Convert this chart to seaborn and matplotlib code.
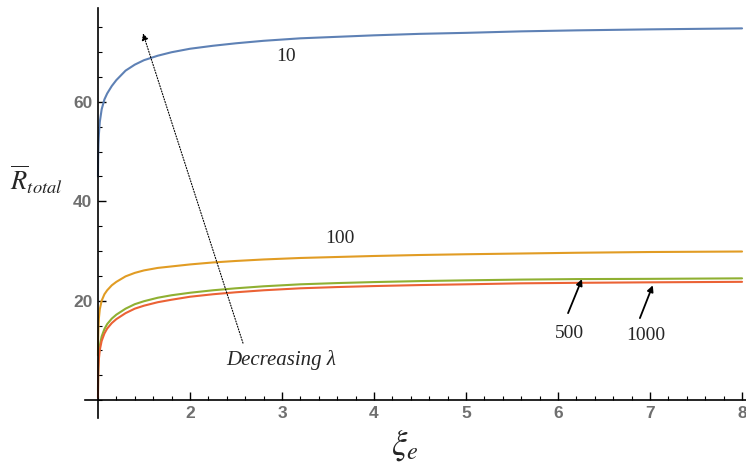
import numpy as np
import pandas as pd
import matplotlib
matplotlib.use("Agg")
import matplotlib.pyplot as plt
import seaborn as sns
from matplotlib.ticker import MultipleLocator

# ---- data ----
xi = [1.0, 1.002, 1.005, 1.01, 1.02, 1.04, 1.07, 1.1, 1.15, 1.2, 1.3, 1.4, 1.5, 1.65,
      1.8, 2.0, 2.25, 2.5, 2.8, 3.2, 3.6, 4.0, 4.5, 5.0, 5.6, 6.2, 7.0, 8.0]
r_lambda_10 = [45, 49, 51.5, 53.5, 56, 58.5, 60.5, 61.7, 63.2, 64.4, 66.3, 67.5, 68.4, 69.3,
               70.0, 70.7, 71.3, 71.8, 72.3, 72.8, 73.1, 73.4, 73.7, 73.9, 74.2, 74.4, 74.6, 74.8]
r_lambda_100 = [9, 12.5, 14.5, 16.5, 18.3, 20.0, 21.3, 22.1, 23.1, 23.8, 24.9, 25.6, 26.1, 26.6,
                26.9, 27.3, 27.7, 28.0, 28.3, 28.6, 28.8, 29.0, 29.2, 29.35, 29.5, 29.65, 29.8, 29.9]
r_lambda_500 = [2, 5.5, 7.5, 9.2, 11.0, 12.8, 14.3, 15.3, 16.4, 17.2, 18.4, 19.3, 19.9, 20.6,
                21.1, 21.6, 22.1, 22.5, 22.9, 23.3, 23.55, 23.75, 23.95, 24.1, 24.25, 24.35, 24.4, 24.5]
r_lambda_1000 = [0.5, 4.5, 6.5, 8.3, 10.1, 11.9, 13.4, 14.4, 15.5, 16.3, 17.5, 18.4, 19.0, 19.7,
                 20.2, 20.8, 21.3, 21.7, 22.1, 22.5, 22.75, 22.95, 23.15, 23.3, 23.5, 23.6, 23.7, 23.8]
lambdas = ["10", "100", "500", "1000"]
x_ticks = [2, 3, 4, 5, 6, 7, 8]
y_ticks = [20, 40, 60]

series = {"10": r_lambda_10, "100": r_lambda_100, "500": r_lambda_500, "1000": r_lambda_1000}
df = pd.concat([pd.DataFrame({"xi": xi, "R": series[l], "lam": l}) for l in lambdas],
               ignore_index=True)

colors = {"10": "#5E81B5", "100": "#E19C24", "500": "#8FB032", "1000": "#EB6235"}

sns.set_style("white")
plt.rcParams["mathtext.fontset"] = "stix"

fig = plt.figure(figsize=(7.46, 4.71), dpi=100)
ax = fig.add_axes([85 / 746, 53 / 471, 661 / 746, 410 / 471])

sns.lineplot(data=df, x="xi", y="R", hue="lam", palette=colors, hue_order=lambdas,
             linewidth=1.5, legend=False, ax=ax, sort=False)

ax.set_xlim(0.859, 8.043)
ax.set_ylim(-3.6, 78.9)

# Mathematica-style crossing axes
ax.spines["left"].set_position(("data", 1.0))
ax.spines["bottom"].set_position(("data", 0.0))
ax.spines["right"].set_visible(False)
ax.spines["top"].set_visible(False)
for s in ("left", "bottom"):
    ax.spines[s].set_color("black")
    ax.spines[s].set_linewidth(1.2)

ax.set_xticks(x_ticks)
ax.set_yticks(y_ticks)
ax.xaxis.set_minor_locator(MultipleLocator(0.2))
ax.yaxis.set_minor_locator(MultipleLocator(5))
ax.tick_params(which="major", direction="in", length=6, width=1, color="black",
               labelsize=12.5, labelcolor="#6f6f6f", pad=4)
ax.tick_params(which="minor", direction="in", length=3, width=0.8, color="black")
ax.tick_params(axis="both", which="both", bottom=True, left=True)
for lab in ax.get_xticklabels() + ax.get_yticklabels():
    lab.set_fontweight("bold")
    lab.set_family(["Liberation Sans Narrow", "Liberation Sans", "DejaVu Sans"])

ax.set_xlabel("")
ax.set_ylabel("")

fig.text(405 / 746, 1 - 445 / 471, r"$\xi_e$", fontsize=25, ha="center", va="center")
fig.text(36 / 746, 1 - 180 / 471, r"$\overline{R}_{total}$", fontsize=19, ha="center", va="center")

serif = ["Liberation Serif", "DejaVu Serif"]
ax.text(3.04, 69.2, "10", fontsize=14, family=serif, ha="center", va="center")
ax.text(3.63, 32.6, "100", fontsize=14, family=serif, ha="center", va="center")
ax.text(6.12, 13.5, "500", fontsize=14, family=serif, ha="center", va="center")
ax.text(6.95, 13.1, "1000", fontsize=14, family=serif, ha="center", va="center")
ax.text(2.99, 8.05, "Decreasing λ", fontsize=15, family=serif, style="italic",
        ha="center", va="center")

ax.annotate("", xy=(1.489, 73.8), xytext=(2.576, 11.47),
            arrowprops=dict(arrowstyle="-|>", color="black", lw=0.8, linestyle=(0, (1, 1.5)),
                            mutation_scale=10, shrinkA=0, shrinkB=0))
ax.annotate("", xy=(6.26, 24.35), xytext=(6.109, 17.5),
            arrowprops=dict(arrowstyle="-|>", color="black", lw=1.3,
                            mutation_scale=9, shrinkA=0, shrinkB=0))
ax.annotate("", xy=(7.03, 23.1), xytext=(6.89, 16.5),
            arrowprops=dict(arrowstyle="-|>", color="black", lw=1.3,
                            mutation_scale=9, shrinkA=0, shrinkB=0))

fig.savefig("out.png", dpi=100)
